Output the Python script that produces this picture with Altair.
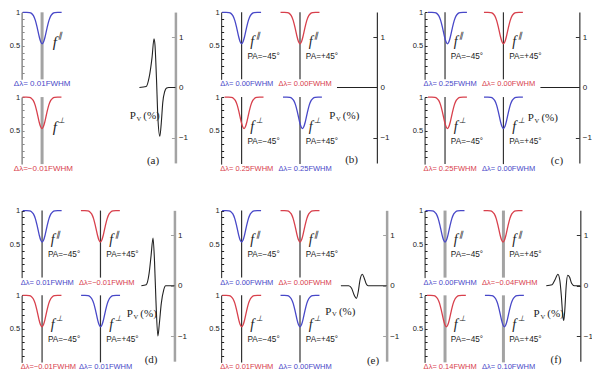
import altair as alt
import pandas as pd

# ------------------------------------------------------------------ data
# normalised line profile (flux vs wavelength offset in FWHM)
PROFILE_U = [-2.0, -1.6, -1.3, -1.1, -0.9, -0.7, -0.5, -0.3, -0.15, 0.0,
             0.15, 0.3, 0.5, 0.7, 0.9, 1.1, 1.3, 1.6, 2.0]
PROFILE_F = [1.0, 1.0, 0.996, 0.984, 0.95, 0.88, 0.765, 0.635, 0.56, 0.53,
             0.56, 0.635, 0.765, 0.88, 0.95, 0.984, 0.996, 1.0, 1.0]

PANELS = ["a", "b", "c", "d", "e", "f"]

# wavelength shifts (FWHM) of the profiles: TL, TR, BL, BR  (panel a: top, bottom)
SHIFT_A = [0.01, -0.01]
SHIFT_B = [0.00, 0.00, 0.25, 0.25]
SHIFT_C = [0.25, 0.00, 0.25, 0.00]
SHIFT_D = [0.01, -0.01, -0.01, 0.01]
SHIFT_E = [0.00, 0.00, 0.01, 0.00]
SHIFT_F = [0.00, -0.04, 0.14, 0.10]
SHIFTS = {"a": SHIFT_A, "b": SHIFT_B, "c": SHIFT_C,
          "d": SHIFT_D, "e": SHIFT_E, "f": SHIFT_F}

SLOT_COL = [0, 1, 0, 1]
SLOT_ROW = [0, 0, 1, 1]
SLOT_POL = ["\u2225", "\u2225", "\u22a5", "\u22a5"]
SLOT_COLOR = ["blue", "red", "red", "blue"]
SLOT_PA = ["PA=\u221245\u00b0", "PA=+45\u00b0", "PA=\u221245\u00b0", "PA=+45\u00b0"]
A_ROW = [0, 1]
A_POL = ["\u2225", "\u22a5"]
A_COLOR = ["blue", "red"]

# P_V curves: wavelength offset (FWHM) and P_V (%)
PV_U = {
    "a": [-1.8, -1.1, -0.8, -0.5, -0.3, -0.2, -0.05, 0.1, 0.3, 0.45, 0.6, 0.8, 1.0, 1.2, 1.9],
    "b": [-2.0, 2.1],
    "c": [-2.0, 2.0],
    "d": [-1.45, -0.95, -0.65, -0.45, -0.25, -0.1, 0.05, 0.25, 0.4, 0.6, 0.85, 1.05, 1.95],
    "e": [-1.9, -1.1, -0.8, -0.5, -0.3, -0.1, 0.05, 0.3, 0.5, 0.7, 0.9, 2.8],
    "f": [-1.7, -1.1, -0.8, -0.5, -0.3, -0.15, 0.0, 0.1, 0.2, 0.35, 0.5, 0.7, 0.9, 1.2, 1.8],
}
PV_V = {
    "a": [0, 0.02, 0.2, 0.6, 0.97, 0.85, 0.2, -0.6, -0.97, -0.7, -0.3, -0.08, -0.01, 0, 0],
    "b": [0, 0],
    "c": [0, 0],
    "d": [0, 0.02, 0.25, 0.6, 0.95, 0.5, -0.3, -1.0, -0.75, -0.35, -0.08, 0, 0],
    "e": [0, 0, -0.05, -0.2, -0.25, -0.1, 0.1, 0.23, 0.15, 0.04, 0, 0],
    "f": [0, 0.02, 0.12, 0.23, 0.1, -0.2, -0.6, -0.69, -0.5, 0, 0.21, 0.17, 0.05, 0, 0],
}

PROFILE_TICKS = [0.1, 0.2, 0.3, 0.4, 0.5, 0.6, 0.7, 0.8, 0.9, 1.0]
PROFILE_LABELS = [0.5, 1.0]
PV_TICKS = [-1, 0, 1]

# ------------------------------------------------------------------ layout
W, H = 584, 363
SX, SY = W / 600.0, H / 379.0


def X(v):
    return round(v * SX, 2)


def Y(v):
    return round(v * SY, 2)


BLUE = "#4848c8"
RED = "#d8404c"
COLORS = {"blue": BLUE, "red": RED}
INK = "#222222"
DARK = "#333333"
GREY = "#a3a3a3"

COL_CX = [34, 94]
ROW_TOP = [4.5, 93]
PROF_H = 70
XS = 10
PV_ZERO = 83
PV_K = 52.5

PANEL_OX = {"a": 1, "b": 206, "c": 415, "d": 1, "e": 206, "f": 415}
PANEL_OY = {"a": 0, "b": 0, "c": 0, "d": 207, "e": 207, "f": 207}
PV_AXIS_X = {"a": 172, "b": 379, "c": 587, "d": 171, "e": 389, "f": 588}
PV_XC = {"a": 153, "b": 358, "c": 567, "d": 151.5, "e": 361, "f": 570}
PV_LABEL = {"a": (140, 113), "b": (345, 113), "c": (549, 115),
            "d": (137, 320), "e": (341, 317), "f": (555, 320)}
TAG_POS = {"a": (149, 160), "b": (353, 159), "c": (564, 160),
           "d": (147, 367), "e": (375, 369), "f": (563, 368)}
STYLE = {
    "a": dict(ax="#8a8a8a", ax_w=1.5, ctr=GREY, ctr_w=3, pv=GREY, pv_w=2.5),
    "b": dict(ax=INK, ax_w=1, ctr=DARK, ctr_w=1.2, pv=DARK, pv_w=1.2),
    "c": dict(ax=INK, ax_w=1, ctr=DARK, ctr_w=1.2, pv=DARK, pv_w=1.2),
    "d": dict(ax=INK, ax_w=1, ctr=DARK, ctr_w=1.2, pv=GREY, pv_w=2.5),
    "e": dict(ax=INK, ax_w=1, ctr=DARK, ctr_w=1.2, pv=GREY, pv_w=2.5),
    "f": dict(ax=INK, ax_w=1, ctr=GREY, ctr_w=3, pv=DARK, pv_w=1.2),
}

SANS = "Liberation Sans"
SERIF = "Liberation Serif"


def dl_text(d):
    sign = "\u2212" if d < 0 else " "
    return "\u0394\u03bb=" + sign + "%.2fFWHM" % abs(d)


def enc(chart, xf, yf, xsc, ysc, yaxis=None, **extra):
    return chart.encode(
        x=alt.X(xf, scale=xsc, axis=None),
        y=alt.Y(yf, scale=ysc, axis=yaxis),
        **extra,
    )


def profile(p, col, row, pol, color, dl, pa):
    st = STYLE[p]
    big = p == "a"
    cx = PANEL_OX[p] + COL_CX[col]
    top = PANEL_OY[p] + ROW_TOP[row]
    x_lo = cx - 2.1 * XS
    xsc = alt.Scale(domain=[-2.1, 2.1], range=[X(x_lo), X(cx + 2.1 * XS)])
    ysc = alt.Scale(domain=[0, 1], range=[Y(top + PROF_H), Y(top)])
    hex_c = COLORS[color]

    if col == 0:
        left_axis = alt.Axis(orient="left", offset=-X(x_lo), values=PROFILE_LABELS,
                             format="~g", ticks=False, tickSize=0, domain=True,
                             domainColor=st["ax"], domainWidth=st["ax_w"],
                             labelFont=SANS, labelFontSize=7.5, labelColor=INK,
                             labelPadding=2, labelFlush=False, labelOverlap=False,
                             grid=False, title=None)
        tick_axis = alt.Axis(orient="right", offset=X(x_lo) - W, values=PROFILE_TICKS,
                             ticks=True, tickSize=2.5, tickColor=st["ax"], tickWidth=1,
                             labels=False, domain=False, grid=False, title=None)
    else:
        left_axis = None
        tick_axis = None

    out = []
    rdf = pd.DataFrame({"u": [0.0], "y0": [0.0], "y1": [1.0]})
    out.append(enc(alt.Chart(rdf).mark_rule(color=st["ctr"], strokeWidth=st["ctr_w"]),
                   "u:Q", "y0:Q", xsc, ysc, tick_axis, y2="y1:Q"))

    cdf = pd.DataFrame({"u": [u + dl for u in PROFILE_U], "f": PROFILE_F})
    out.append(enc(alt.Chart(cdf).mark_line(color=hex_c, strokeWidth=1.3,
                                            interpolate="monotone"),
                   "u:Q", "f:Q", xsc, ysc, left_axis))

    sans_rows = [dict(u=-2.9 if big else -2.2, f=-0.075, txt=dl_text(dl),
                      fs=8 if big else 7.5, c=hex_c)]
    if pa:
        sans_rows.append(dict(u=0.6, f=0.33, txt=pa, fs=8.2, c=INK))
    out.append(enc(alt.Chart(pd.DataFrame(sans_rows)).mark_text(
        font=SANS, align="left", baseline="middle"),
        "u:Q", "f:Q", xsc, ysc, None, text="txt:N",
        size=alt.Size("fs:Q", scale=None, legend=None),
        color=alt.Color("c:N", scale=None, legend=None)))

    fx = 1.1 if big else 0.9
    ital_rows = [dict(u=fx, f=0.56, txt="f", fs=15 if big else 14),
                 dict(u=fx + 0.55, f=0.64, txt=pol, fs=8)]
    out.append(enc(alt.Chart(pd.DataFrame(ital_rows)).mark_text(
        font=SERIF, fontStyle="italic", align="left", baseline="middle", color=INK),
        "u:Q", "f:Q", xsc, ysc, None, text="txt:N",
        size=alt.Size("fs:Q", scale=None, legend=None)))
    return out


def pv(p):
    st = STYLE[p]
    oy = PANEL_OY[p]
    xc = PV_XC[p]
    ax = PV_AXIS_X[p]
    xsc = alt.Scale(domain=[-2, 2], range=[X(xc - 20), X(xc + 20)])
    ysc = alt.Scale(domain=[-1.5, 1.5],
                    range=[Y(oy + PV_ZERO + 1.5 * PV_K), Y(oy + PV_ZERO - 1.5 * PV_K)])

    def U(xa):
        return (xa - xc) / XS

    def V(ya):
        return (oy + PV_ZERO - ya) / PV_K

    main_axis = alt.Axis(orient="right", offset=X(ax) - W, values=PV_TICKS, format="~g",
                         ticks=False, tickSize=0, domain=True, domainColor=st["pv"],
                         domainWidth=st["pv_w"], labelFont=SANS, labelFontSize=8,
                         labelColor=INK, labelPadding=3, labelFlush=False,
                         labelOverlap=False, grid=False, title=None)
    tick_axis = alt.Axis(orient="left", offset=-X(ax), values=PV_TICKS, ticks=True,
                         tickSize=4, tickColor=st["pv"], tickWidth=1, labels=False,
                         domain=False, grid=False, title=None)

    out = []
    cdf = pd.DataFrame({"u": PV_U[p], "v": PV_V[p]})
    out.append(enc(alt.Chart(cdf).mark_line(color=INK, strokeWidth=1.1,
                                            interpolate="monotone"),
                   "u:Q", "v:Q", xsc, ysc, main_axis))
    lx, ly = PV_LABEL[p]
    rows = [dict(u=U(lx - 15), v=V(ly), txt="P", fs=11),
            dict(u=U(lx - 8), v=V(ly + 3), txt="V", fs=6.5),
            dict(u=U(lx - 1), v=V(ly), txt="(%)", fs=11)]
    out.append(enc(alt.Chart(pd.DataFrame(rows)).mark_text(
        font=SERIF, align="left", baseline="middle", color=INK),
        "u:Q", "v:Q", xsc, ysc, None, text="txt:N",
        size=alt.Size("fs:Q", scale=None, legend=None)))
    tx, ty = TAG_POS[p]
    tdf = pd.DataFrame([dict(u=U(tx), v=V(ty), txt="(%s)" % p)])
    out.append(enc(alt.Chart(tdf).mark_text(font=SERIF, fontSize=11, align="center",
                                            baseline="middle", color=INK),
                   "u:Q", "v:Q", xsc, ysc, tick_axis, text="txt:N"))
    return out


layers = []
for p in PANELS:
    if p == "a":
        for i in range(2):
            layers += profile(p, 0, A_ROW[i], A_POL[i], A_COLOR[i], SHIFTS[p][i], None)
    else:
        for i in range(4):
            layers += profile(p, SLOT_COL[i], SLOT_ROW[i], SLOT_POL[i], SLOT_COLOR[i],
                              SHIFTS[p][i], SLOT_PA[i])
    layers += pv(p)

chart = alt.layer(*layers).resolve_scale(x="independent", y="independent").properties(
    width=W, height=H, padding=0, autosize=alt.AutoSizeParams(type="none")
).configure_view(stroke=None)

chart.save("out.html", embed_options={"renderer": "svg", "actions": False})
